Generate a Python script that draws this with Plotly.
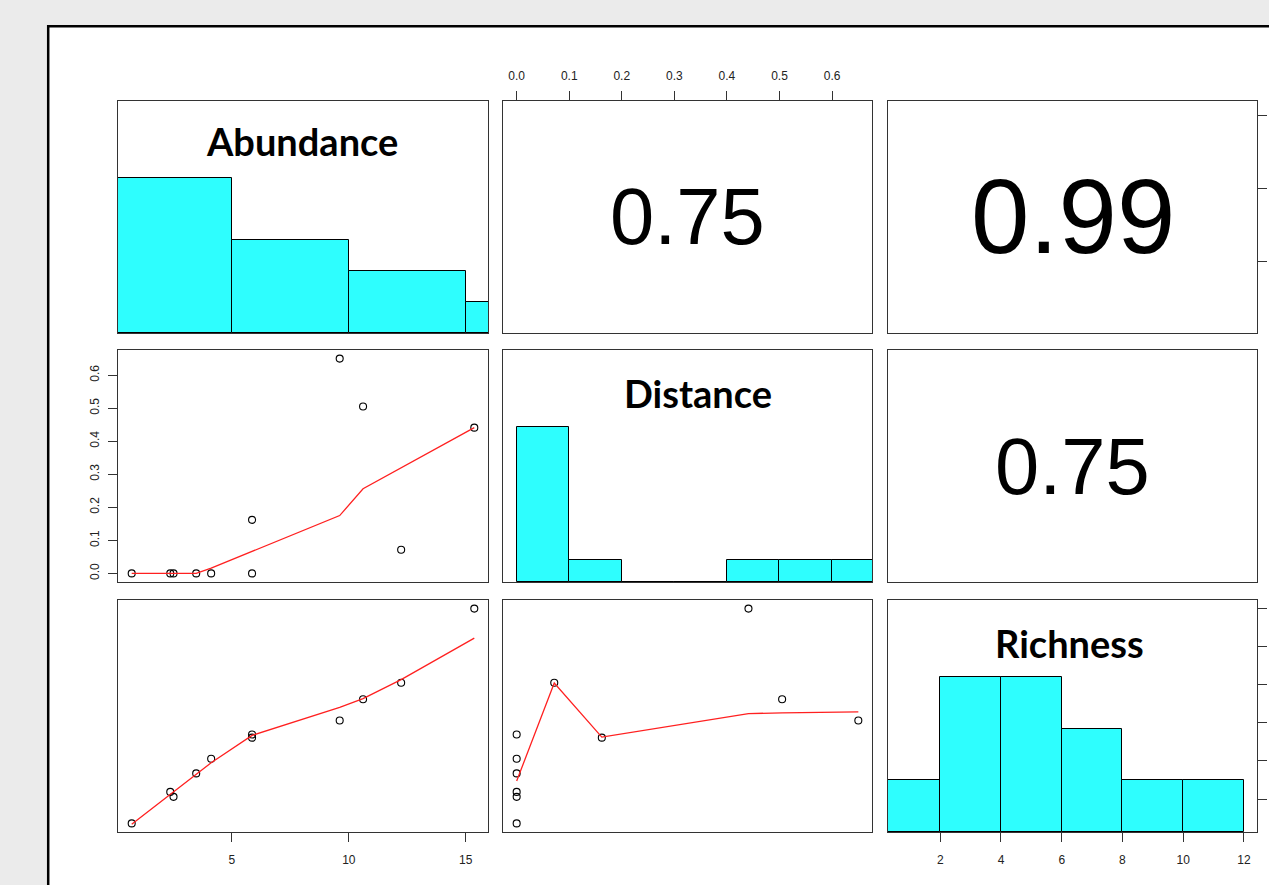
import numpy as np
import plotly.graph_objects as go

# ---- data -------------------------------------------------------------
variables = ["Abundance", "Distance", "Richness"]

abundance = [0.71, 2.36, 2.50, 3.47, 4.11, 5.86, 5.86, 9.61, 10.61, 12.24, 15.37]
distance = [0.0, 0.0, 0.0, 0.0, 0.0, 0.0, 0.162, 0.650, 0.505, 0.0715, 0.441]
richness = [0.73, 2.38, 2.12, 3.35, 4.12, 5.39, 5.22, 6.12, 7.23, 8.10, 11.98]

# histogram bins (edges) and counts on the diagonal
abund_edges = [0, 5, 10, 15, 20]
abund_counts = [5, 3, 2, 1]
dist_edges = [0.0, 0.1, 0.2, 0.3, 0.4, 0.5, 0.6, 0.7]
dist_counts = [7, 1, 0, 0, 1, 1, 1]
rich_edges = [0, 2, 4, 6, 8, 10, 12]
rich_counts = [1, 3, 3, 2, 1, 1]

# lowess smoothers drawn in the lower panels
ad_fit_x = [0.71, 2.36, 2.50, 3.47, 4.11, 5.86, 9.61, 10.61, 12.24, 15.37]
ad_fit_y = [0.0, 0.0, 0.0, 0.0, 0.016, 0.066, 0.175, 0.256, 0.319, 0.441]
ar_fit_x = [0.71, 2.36, 2.50, 3.47, 4.11, 5.86, 9.61, 10.61, 12.24, 15.37]
ar_fit_y = [0.69, 2.25, 2.38, 3.30, 3.91, 5.34, 6.81, 7.27, 8.26, 10.43]
dr_fit_x = [0.0, 0.0715, 0.162, 0.441, 0.505, 0.65]
dr_fit_y = [2.95, 8.08, 5.25, 6.48, 6.52, 6.57]

# absolute correlations shown in the upper panels: (row, col, label)
corr_cells = [(0, 1, "0.75"), (0, 2, "0.99"), (1, 2, "0.75")]

abund_ticks = [5, 10, 15]
dist_ticks = [0.0, 0.1, 0.2, 0.3, 0.4, 0.5, 0.6]
rich_ticks = [2, 4, 6, 8, 10, 12]

# ---- page geometry (pixels) -------------------------------------------
W, H = 1269, 885
col_px = [(118, 488), (503, 872), (888, 1257)]
row_px = [(101, 333), (350, 582), (600, 832)]
diag_label_px = [(302, 141), (698, 393), (1069, 643)]

CYAN = "#2efefe"
BOX = "#333333"
TICKFONT = dict(family="Liberation Sans, Arial, sans-serif", size=12, color="#222222")


def px_x(v):
    return v / W


def px_y(v):
    return 1 - v / H


def padded(vals):
    lo, hi = min(vals), max(vals)
    d = 0.04 * (hi - lo)
    return [lo - d, hi + d]


values = [abundance, distance, richness]
ranges = [padded(v) for v in values]
hists = [(abund_edges, abund_counts), (dist_edges, dist_counts), (rich_edges, rich_counts)]

fig = go.Figure()
layout = dict()
annotations = []


def axis_names(r, c):
    k = r * 3 + c + 1
    s = "" if k == 1 else str(k)
    return "x" + s, "y" + s, "xaxis" + s, "yaxis" + s


def base_axis():
    return dict(showline=True, mirror=True, linecolor=BOX, linewidth=1,
                showgrid=False, zeroline=False, ticks="", showticklabels=False,
                fixedrange=True)


def placeholder(xr, yr, x, y):
    # invisible point so that the panel frame and its axes are drawn
    fig.add_trace(go.Scatter(x=[x], y=[y], xaxis=xr, yaxis=yr, mode="markers",
                             marker=dict(opacity=0, size=1), showlegend=False,
                             hoverinfo="skip"))


for r in range(3):
    for c in range(3):
        xr, yr, xa, ya = axis_names(r, c)
        xax = base_axis()
        yax = base_axis()
        xax.update(domain=[px_x(col_px[c][0]), px_x(col_px[c][1])], anchor=yr,
                   range=ranges[c])
        yax.update(domain=[px_y(row_px[r][1]), px_y(row_px[r][0])], anchor=xr,
                   range=ranges[r])

        if r == c:
            edges, counts = hists[r]
            edges = np.asarray(edges, dtype=float)
            mids = (edges[:-1] + edges[1:]) / 2
            widths = np.diff(edges)
            fig.add_trace(go.Bar(x=mids, y=counts, width=widths, xaxis=xr, yaxis=yr,
                                 marker=dict(color=CYAN, line=dict(color="black", width=1)),
                                 showlegend=False, hoverinfo="skip"))
            yax.update(range=[0, max(counts) * 1.5])
            lx, ly = diag_label_px[r]
            annotations.append(dict(x=px_x(lx), y=px_y(ly), xref="paper", yref="paper",
                                    text="<b>%s</b>" % variables[r], showarrow=False,
                                    xanchor="center", yanchor="middle",
                                    font=dict(family="Lato, sans-serif", size=38, color="black")))
        elif r > c:
            fig.add_trace(go.Scatter(x=values[c], y=values[r], mode="markers",
                                     xaxis=xr, yaxis=yr, showlegend=False,
                                     marker=dict(symbol="circle-open", size=7,
                                                 color="black", line=dict(width=1.1))))
        else:
            placeholder(xr, yr, np.mean(ranges[c]), np.mean(ranges[r]))

        layout[xa] = xax
        layout[ya] = yax

# smoothers
for (r, c), fx, fy in [((1, 0), ad_fit_x, ad_fit_y), ((2, 0), ar_fit_x, ar_fit_y),
                       ((2, 1), dr_fit_x, dr_fit_y)]:
    xr, yr, _, _ = axis_names(r, c)
    fig.add_trace(go.Scatter(x=fx, y=fy, mode="lines", xaxis=xr, yaxis=yr,
                             showlegend=False, line=dict(color="#ff2020", width=1.3)))

# correlation text, size proportional to r
for r, c, lab in corr_cells:
    cx = (col_px[c][0] + col_px[c][1]) / 2
    cy = (row_px[r][0] + row_px[r][1]) / 2
    annotations.append(dict(x=px_x(cx), y=px_y(cy), xref="paper", yref="paper",
                            text=lab, showarrow=False, xanchor="center", yanchor="middle",
                            font=dict(family="Liberation Sans, Arial, sans-serif",
                                      size=106 * float(lab), color="black")))

tick_style = dict(ticks="outside", ticklen=9, tickwidth=1, tickcolor=BOX, tickfont=TICKFONT)

# top axis of (0,1): Distance
layout["xaxis2"].update(side="top", tickvals=dist_ticks, showticklabels=True,
                        ticktext=["%.1f" % t for t in dist_ticks],
                        ticklabelstandoff=6, **tick_style)
# right axis of (0,2): Abundance
layout["yaxis3"].update(side="right", tickvals=abund_ticks, **tick_style)
layout["yaxis3"]["showticklabels"] = False
# left axis of (1,0): Distance
layout["yaxis4"].update(side="left", tickvals=dist_ticks, showticklabels=True,
                        ticktext=["%.1f" % t for t in dist_ticks], tickangle=-90,
                        ticklabelstandoff=4, **tick_style)
# bottom axis of (2,0): Abundance
layout["xaxis7"].update(side="bottom", tickvals=abund_ticks, showticklabels=True,
                        ticklabelstandoff=8, **tick_style)
# bottom axis of (2,2): Richness
layout["xaxis9"].update(side="bottom", tickvals=rich_ticks, showticklabels=True,
                        ticklabelstandoff=8, **tick_style)
# right axis of (2,2) on the Richness scale, overlaid on the histogram panel
layout["yaxis10"] = dict(overlaying="y9", anchor="x9", side="right", range=ranges[2],
                         tickvals=rich_ticks, showticklabels=False, showgrid=False,
                         zeroline=False, showline=False, fixedrange=True, **tick_style)
placeholder("x9", "y10", np.mean(ranges[2]), np.mean(ranges[2]))

# white sheet with a black frame on a gray page
shapes = [dict(type="rect", xref="paper", yref="paper", layer="below",
               x0=px_x(48.2), x1=1.05, y0=-0.05, y1=px_y(26.2),
               fillcolor="white", line=dict(color="black", width=2.5))]

fig.update_layout(width=W, height=H, autosize=False,
                  margin=dict(l=0, r=0, t=0, b=0),
                  paper_bgcolor="#ebebeb", plot_bgcolor="white",
                  bargap=0, barmode="overlay",
                  shapes=shapes, annotations=annotations, **layout)

fig.write_html("out.html")
